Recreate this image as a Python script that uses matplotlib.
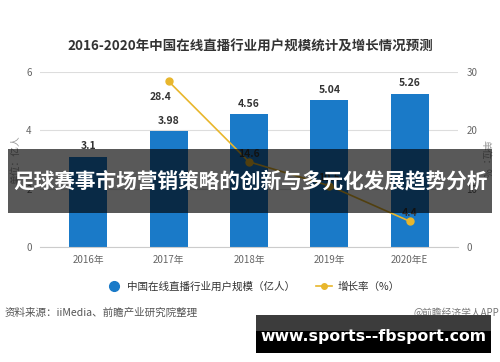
import matplotlib

matplotlib.use("Agg")
import matplotlib.pyplot as plt
from matplotlib.lines import Line2D
from matplotlib.patches import Rectangle

plt.rcParams["font.family"] = ["Noto Sans CJK SC", "DejaVu Sans"]

# 数据
years = ["2016年", "2017年", "2018年", "2019年", "2020年E"]
users = [3.1, 3.98, 4.56, 5.04, 5.26]
growth_years = [1, 2, 3, 4]
growth = [28.4, 14.6, 10.5, 4.4]
left_ticks = [0, 2, 4, 6]
right_ticks = [0, 10, 20, 30]

bar_color = "#1a7ac8"
line_color = "#e8b62c"
text_gray = "#666666"

fig = plt.figure(figsize=(5, 3.62), dpi=100)
ax = fig.add_axes([0.08, 0.3177, 0.836, 0.4834])
ax2 = ax.twinx()

x = list(range(len(years)))
ax.bar(x, users, width=0.47, color=bar_color, zorder=2)
for xi, v in zip(x, users):
    ax.text(xi, v + 0.18, f"{v:g}", ha="center", va="bottom",
            fontsize=7.5, fontweight="bold", color="#333333", zorder=5)

ax.set_xlim(-0.6, 4.6)
ax.set_ylim(0, 6)
ax.set_yticks(left_ticks)
ax.set_xticks(x)
ax.set_xticklabels(years, fontsize=7, color=text_gray)
ax.grid(axis="y", color="#dddddd", linewidth=0.8, zorder=0)
ax.set_axisbelow(True)
for sp in ax.spines.values():
    sp.set_visible(False)
for sp in ax2.spines.values():
    sp.set_visible(False)
ax.spines["bottom"].set_visible(True)
ax.spines["bottom"].set_color("#cccccc")
ax.tick_params(axis="y", length=0, labelsize=7, labelcolor=text_gray, pad=6)
ax.tick_params(axis="x", length=0, pad=6)

ax2.plot(growth_years, growth, color=line_color, linewidth=1.2, marker="o",
         markersize=5, zorder=4)
ax2.set_ylim(0, 30)
ax2.set_yticks(right_ticks)
ax2.tick_params(axis="y", length=0, labelsize=7, labelcolor=text_gray, pad=6)
offsets = [(-0.1, -2.6), (0, 1.4), (0, 1.4), (0, 1.4)]
for xi, v, (dx, dy) in zip(growth_years, growth, offsets):
    ax2.text(xi + dx, v + dy, f"{v:g}", ha="center", va="center",
             fontsize=7.5, fontweight="bold", color="#333333", zorder=5)

ax.set_ylabel("单位：亿人", fontsize=7, color="#999999", labelpad=4)
ax2.set_ylabel("单位：%", fontsize=7, color="#999999", labelpad=2, rotation=-90,
               va="bottom")

fig.text(0.5, 0.87, "2016-2020年中国在线直播行业用户规模统计及增长情况预测",
         ha="center", va="center", fontsize=9.7, fontweight="bold", color="#333333")

# 图例
handles = [
    Line2D([], [], linestyle="none", marker="o", markersize=7, color=bar_color),
    Line2D([], [], color=line_color, marker="o", markersize=4, linewidth=1.2),
]
fig.legend(handles, ["中国在线直播行业用户规模（亿人）", "增长率（%）"],
           loc="center", bbox_to_anchor=(0.505, 0.207), ncol=2, frameon=False,
           fontsize=7.6, handlelength=1.5, columnspacing=2.0, handletextpad=0.5,
           labelcolor="#333333")

fig.text(0.01, 0.135, "资料来源：iiMedia、前瞻产业研究院整理", ha="left",
         va="center", fontsize=7.6, color="#555555")
fig.text(0.998, 0.135, "@前瞻经济学人APP", ha="right", va="center",
         fontsize=7, color="#777777")

# 横幅
fig.patches.append(Rectangle((0.016, 1 - 213 / 362), 0.968, 64 / 362,
                             transform=fig.transFigure, facecolor="black",
                             alpha=0.65, edgecolor="none", zorder=10))
fig.text(0.5, 1 - 181 / 362, "足球赛事市场营销策略的创新与多元化发展趋势分析",
         ha="center", va="center", fontsize=14.9, fontweight="bold",
         color="white", zorder=11)

fig.patches.append(Rectangle((256 / 500, 1 - 331 / 362), 235 / 500, 16 / 362,
                             transform=fig.transFigure, facecolor="#3c3c3c",
                             edgecolor="none", zorder=10))
fig.patches.append(Rectangle((256 / 500, 1 - 353 / 362), 235 / 500, 22 / 362,
                             transform=fig.transFigure, facecolor="black",
                             edgecolor="none", zorder=10))
fig.text(373 / 500, 1 - 336 / 362, "www.sports--fbsport.com", ha="center",
         va="center", fontsize=11.3, fontweight="bold", color="white",
         family=["DejaVu Sans"], zorder=11)

fig.savefig("out.png", dpi=100)
